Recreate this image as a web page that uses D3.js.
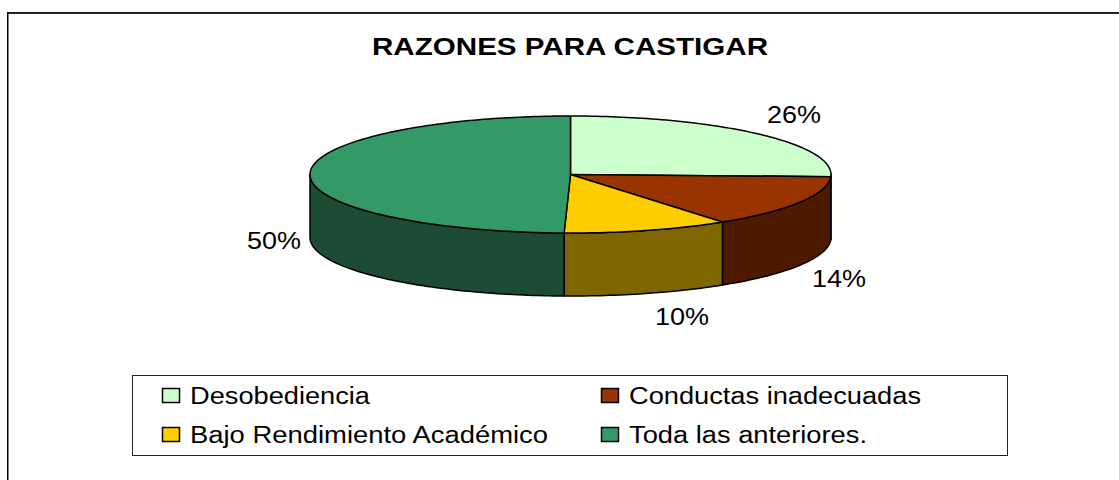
<!DOCTYPE html>
<html>
<head>
<meta charset="utf-8">
<script src="https://cdn.jsdelivr.net/npm/d3@7"></script>
<style>
  html, body { margin: 0; padding: 0; background: #fff; }
  svg { display: block; }
  text { font-family: "Liberation Sans", Arial, sans-serif; fill: #000; }
</style>
</head>
<body>
<div id="chart"></div>
<script>
var title = "RAZONES PARA CASTIGAR";
var categories = ["Desobediencia", "Conductas inadecuadas", "Bajo Rendimiento Académico", "Toda las anteriores."];
var values = [25.6, 14.49, 10.3, 49.61];
var topColors = ["#ccffcc", "#993300", "#ffcc00", "#339966"];
var sideColors = ["#668066", "#4d1a00", "#806600", "#1c4c35"];

var width = 1119, height = 480;
var cx = 570.5, cy = 174.5, rx = 260.5, ry = 58.5, depth = 63;

var svg = d3.select("#chart").append("svg")
    .attr("width", width)
    .attr("height", height);

// outer frame, only top and left are inside the picture
svg.append("line")
    .attr("x1", 7).attr("x2", width).attr("y1", 13).attr("y2", 13)
    .attr("stroke", "#222").attr("stroke-width", 2);
svg.append("line")
    .attr("x1", 7.75).attr("x2", 7.75).attr("y1", 12).attr("y2", height)
    .attr("stroke", "#000").attr("stroke-width", 1.5);

// stretched text, the original is wider than the font
function addText(x, y, str, size, len, anchor, bold) {
  var t = svg.append("text")
      .attr("x", x).attr("y", y)
      .attr("font-size", size)
      .attr("text-anchor", anchor || "start")
      .attr("textLength", len)
      .attr("lengthAdjust", "spacingAndGlyphs")
      .text(str);
  if (bold) t.attr("font-weight", "bold");
  return t;
}

addText(570, 55, title, 24, 396, "middle", true);

var pie = d3.pie().sort(null).value(function (d) { return d; });
var slices = pie(values);

var px = d3.scaleLinear().domain([-1, 1]).range([cx - rx, cx + rx]);
var py = d3.scaleLinear().domain([-1, 1]).range([cy - ry, cy + ry]);

function rimPoints(a0, a1) {
  var n = Math.max(2, Math.ceil((a1 - a0) / 0.02));
  return d3.range(n + 1).map(function (i) {
    var a = a0 + (a1 - a0) * i / n;
    return [px(Math.sin(a)), py(-Math.cos(a))];
  });
}

var line = d3.line();

// side walls, only the front half shows
var frontStart = Math.PI / 2, frontEnd = Math.PI * 3 / 2;
slices.forEach(function (s, i) {
  var a0 = Math.max(s.startAngle, frontStart);
  var a1 = Math.min(s.endAngle, frontEnd);
  if (a1 <= a0) return;
  var upper = rimPoints(a0, a1);
  var lower = upper.map(function (p) { return [p[0], p[1] + depth]; }).reverse();
  svg.append("path")
      .attr("d", line(upper.concat(lower)) + "Z")
      .attr("fill", sideColors[i])
      .attr("stroke", "#000").attr("stroke-width", 1.5)
      .attr("stroke-linejoin", "round");
});

// top faces
slices.forEach(function (s, i) {
  svg.append("path")
      .attr("d", line([[cx, cy]].concat(rimPoints(s.startAngle, s.endAngle))) + "Z")
      .attr("fill", topColors[i])
      .attr("stroke", "#000").attr("stroke-width", 1.5)
      .attr("stroke-linejoin", "round");
});

// percent labels
var labelPos = [[794, 123], [839, 287], [682, 325], [274, 249]];
values.forEach(function (v, i) {
  addText(labelPos[i][0], labelPos[i][1], Math.round(v) + "%", 23, 54, "middle");
});

// legend
svg.append("rect")
    .attr("x", 132.5).attr("y", 375.5)
    .attr("width", 875).attr("height", 80)
    .attr("fill", "#fff").attr("stroke", "#222").attr("stroke-width", 1);

var legendX = [162, 601], legendTextX = [190, 629], legendY = [388, 427];
var legendLen = [180, 292, 358, 238];
categories.forEach(function (c, i) {
  var col = i % 2, row = Math.floor(i / 2);
  svg.append("rect")
      .attr("x", legendX[col] + 0.5).attr("y", legendY[row] + 0.5)
      .attr("width", 17).attr("height", 14)
      .attr("fill", topColors[i])
      .attr("stroke", "#000").attr("stroke-width", 1.5);
  addText(legendTextX[col], legendY[row] + 16, c, 23, legendLen[i]);
});
</script>
</body>
</html>
